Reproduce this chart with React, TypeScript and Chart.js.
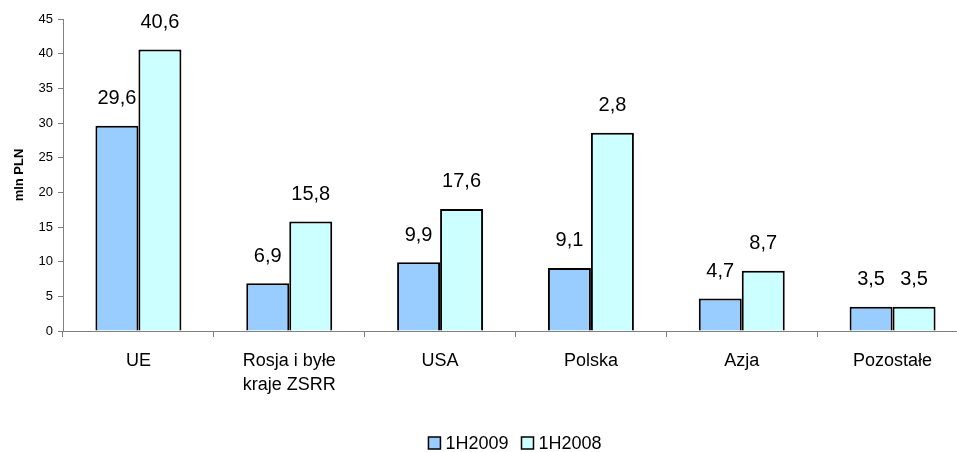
import React, { useEffect, useRef } from "react";
import { Chart, registerables } from "chart.js";

Chart.register(...registerables);

const categories: (string | string[])[] = [
  "UE",
  ["Rosja i byłe", "kraje ZSRR"],
  "USA",
  "Polska",
  "Azja",
  "Pozostałe",
];
const series2009 = [29.6, 6.9, 9.9, 9.1, 4.7, 3.5];
const series2008 = [40.6, 15.8, 17.6, 28.6, 8.7, 3.5];
const labels2009 = ["29,6", "6,9", "9,9", "9,1", "4,7", "3,5"];
const labels2008 = ["40,6", "15,8", "17,6", "2,8", "8,7", "3,5"];
const seriesNames = ["1H2009", "1H2008"];
const seriesColors = ["#99CCFF", "#CCFFFF"];

const FONT = "'Liberation Sans', Arial, sans-serif";

const valueLabels = {
  id: "valueLabels",
  afterDatasetsDraw(chart: any) {
    const ctx = chart.ctx;
    const texts = [labels2009, labels2008];
    ctx.save();
    ctx.font = `20px ${FONT}`;
    ctx.fillStyle = "#000";
    ctx.textAlign = "center";
    ctx.textBaseline = "middle";
    chart.data.datasets.forEach((_: any, di: number) => {
      const meta = chart.getDatasetMeta(di);
      meta.data.forEach((bar: any, i: number) => {
        ctx.fillText(texts[di][i], bar.x, bar.y - 27);
      });
    });
    ctx.restore();
  },
};

// Legend drawn centred under the chart: square swatch followed by the series name
const bottomLegend = {
  id: "bottomLegend",
  afterDraw(chart: any) {
    const ctx = chart.ctx;
    ctx.save();
    ctx.font = `18px ${FONT}`;
    ctx.textBaseline = "middle";
    const box = 12;
    const gapBoxText = 5;
    const gapItems = 13;
    const items = chart.data.datasets.map((d: any) => ({
      text: d.label,
      color: d.backgroundColor,
      w: box + gapBoxText + ctx.measureText(d.label).width,
    }));
    const total =
      items.reduce((s: number, it: any) => s + it.w, 0) + gapItems * (items.length - 1);
    let x = chart.width / 2 - total / 2;
    const y = chart.height - 9;
    items.forEach((it: any) => {
      ctx.fillStyle = it.color;
      ctx.fillRect(x, y - box / 2, box, box);
      ctx.strokeStyle = "#000";
      ctx.lineWidth = 1.5;
      ctx.strokeRect(x, y - box / 2, box, box);
      ctx.fillStyle = "#000";
      ctx.fillText(it.text, x + box + gapBoxText, y + 1);
      x += it.w + gapItems;
    });
    ctx.restore();
  },
};

export default function App() {
  const ref = useRef<HTMLCanvasElement>(null);

  useEffect(() => {
    if (!ref.current) return;
    const chart = new Chart(ref.current, {
      type: "bar",
      data: {
        labels: categories,
        datasets: seriesNames.map((name, i) => ({
          label: name,
          data: i === 0 ? series2009 : series2008,
          backgroundColor: seriesColors[i],
          borderColor: "#000",
          borderWidth: 2,
          categoryPercentage: 0.57,
          barPercentage: 1,
        })),
      },
      options: {
        animation: false,
        responsive: false,
        maintainAspectRatio: false,
        layout: { padding: { left: 0, right: 62, top: 19, bottom: 33 } },
        plugins: {
          tooltip: { enabled: false },
          legend: { display: false },
        },
        scales: {
          x: {
            offset: true,
            grid: {
              offset: true,
              drawOnChartArea: false,
              drawTicks: true,
              tickLength: 6,
              color: "#808080",
            },
            border: { color: "#808080", width: 1 },
            ticks: {
              color: "#000",
              font: { family: FONT, size: 18, lineHeight: 1.28 },
              padding: 13,
              maxRotation: 0,
              autoSkip: false,
            },
            afterFit: (s: any) => {
              s.height = 88;
            },
          },
          y: {
            min: 0,
            max: 45,
            ticks: {
              stepSize: 5,
              color: "#000",
              font: { family: FONT, size: 13 },
              padding: 5,
            },
            grid: {
              drawOnChartArea: false,
              drawTicks: true,
              tickLength: 5,
              color: "#808080",
            },
            border: { color: "#808080", width: 1 },
            title: {
              display: true,
              text: "mln PLN",
              color: "#000",
              font: { family: FONT, size: 13, weight: "bold" },
              padding: { top: 12, bottom: 4 },
            },
            afterFit: (s: any) => {
              s.width = 63;
            },
          },
        },
      },
      plugins: [valueLabels, bottomLegend],
    });
    return () => chart.destroy();
  }, []);

  return (
    <div
      style={{
        position: "fixed",
        left: 0,
        top: 0,
        width: 957,
        height: 452,
        overflow: "hidden",
        background: "#fff",
      }}
    >
      <canvas ref={ref} width={1030} height={452} style={{ display: "block" }} />
    </div>
  );
}
